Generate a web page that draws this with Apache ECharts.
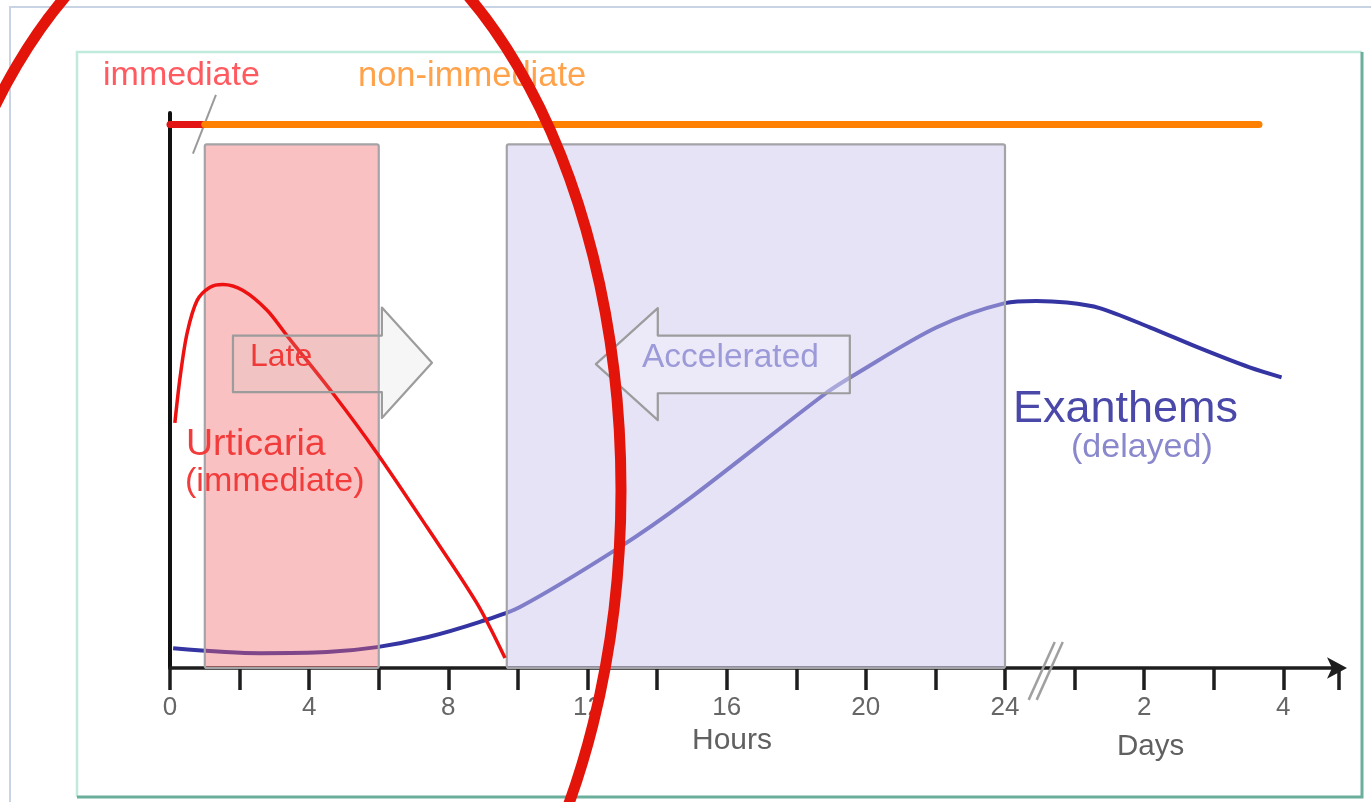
<!DOCTYPE html>
<html>
<head>
<meta charset="utf-8">
<script src="https://cdn.jsdelivr.net/npm/echarts@6/dist/echarts.min.js"></script>
<style>html,body{margin:0;padding:0;background:#fff;}#c{width:1371px;height:802px;}</style>
</head>
<body>
<div id="c"></div>
<script>
// ---- data (x in hours; beyond 24 the scale continues as days: 28 -> 2 days, 32 -> 4 days) ----
const tickValues = [0,2,4,6,8,10,12,14,16,18,20,22,24,26,28,30,32];
const tickLabels = ['0','','4','','8','','12','','16','','20','','24','','2','','4'];

const urticaria = [[0.14,44.6],[0.29,52.9],[0.49,60.9],[0.78,66.9],[1.15,69.3],[1.52,69.8],[2.10,68.7],[2.79,65.1],[3.36,60.5],[4.68,50.0],[5.95,39.1],[7.39,25.6],[8.82,11.8],[9.63,1.8]];
const exanthems = [[0.09,3.6],[2.59,2.7],[4.51,2.9],[5.95,3.8],[7.39,5.6],[8.91,8.4],[10.06,11.1],[12.93,22],[14.86,30.5],[18.85,50],[19.74,53.6],[22.04,62],[24.0,66.4],[24.9,66.8],[25.78,66.5],[26.72,65.5],[28.16,62.0],[29.6,58.2],[31.03,54.7],[31.95,52.9]];

const phaseStart = [1.0, 9.68];
const phaseEnd = [6.0, 24.0];
const phaseTop = [95.3, 95.3];

const immediateBar = [[0,98.9],[1.0,98.9]];
const nonImmediateBar = [[1.0,98.9],[31.3,98.9]];

// arrows: [tailX, headBaseX, tipX, bodyTop, bodyBottom, headTop, headBottom]
const arrowLate = [1.81, 6.09, 7.53, 60.5, 50.2, 65.6, 45.5];
const arrowAccel = [19.54, 14.02, 12.24, 60.5, 50.0, 65.5, 45.1];

// divider between immediate / non-immediate, and axis break marks: [x0,y0,x1,y1]
const dividerMark = [[1.32,104.3,0.66,93.6]];
const breakMarks = [[25.43,4.73,24.68,-5.8],[25.66,4.73,24.91,-5.8]];

const FONT = '"Liberation Sans", Arial, Helvetica, sans-serif';

const chart = echarts.init(document.getElementById('c'), null, {renderer:'canvas'});

function txt(x, y, s, size, color, z) {
  return {type:'text', x:x, y:y, z: z || 50,
    style:{text:s, font: size + 'px ' + FONT, fill:color, textAlign:'left', textVerticalAlign:'middle', verticalAlign:'middle'}};
}

const arrowSeries = (arr, fill) => ({
  type:'custom', z:5, clip:false,
  data:[arr],
  encode:{x:[0,1,2], y:[3,4]},
  renderItem: function(params, api){
    const v = i => api.value(i);
    const ym = (v(5)+v(6))/2;
    const pts = [[v(0),v(3)],[v(1),v(3)],[v(1),v(5)],[v(2),ym],[v(1),v(6)],[v(1),v(4)],[v(0),v(4)]].map(p => api.coord(p));
    return {type:'polygon', shape:{points:pts}, style:{fill:fill, stroke:'#9c9c9c', lineWidth:2.2, lineJoin:'round'}};
  }
});

const segSeries = (arr, color, width) => ({
  type:'custom', z:6, clip:false,
  data:arr,
  encode:{x:[0,2], y:[1,3]},
  renderItem: function(params, api){
    const a = api.coord([api.value(0), api.value(1)]);
    const b = api.coord([api.value(2), api.value(3)]);
    return {type:'line', shape:{x1:a[0],y1:a[1],x2:b[0],y2:b[1]}, style:{stroke:color, lineWidth:width}};
  }
});

const phaseFills = ['rgba(240,100,100,0.40)', 'rgba(205,200,240,0.50)'];

const option = {
  backgroundColor:'#ffffff',
  animation:false,
  grid:{left:170, right:32, top:113, bottom:134},
  xAxis:{
    type:'value', min:0, max:33.6, interval:2,
    axisLine:{show:true, lineStyle:{color:'#1e1e1e', width:3.5}, symbol:['none','arrow'], symbolSize:[16,20], symbolOffset:[0,8]},
    axisTick:{show:true, length:22, lineStyle:{color:'#1e1e1e', width:3.5}},
    axisLabel:{show:true, margin:27, fontSize:26, fontFamily:FONT, color:'#666666',
      formatter: function(v){ const i = tickValues.indexOf(v); return i >= 0 ? tickLabels[i] : ''; }},
    splitLine:{show:false}
  },
  yAxis:{
    type:'value', min:0, max:101,
    axisLine:{show:true, lineStyle:{color:'#111', width:4}},
    axisTick:{show:false}, axisLabel:{show:false}, splitLine:{show:false}
  },
  series:[
    {type:'line', name:'Exanthems', data:exanthems, z:2, smooth:0.3, symbol:'none',
      lineStyle:{color:'#3434a2', width:4}},
    {type:'custom', name:'phases', z:3,
      data: phaseStart.map((s,i) => [s, phaseEnd[i], phaseTop[i]]),
      encode:{x:[0,1], y:2},
      renderItem: function(params, api){
        const p0 = api.coord([api.value(0), api.value(2)]);
        const p1 = api.coord([api.value(1), 0]);
        return {type:'rect', shape:{x:p0[0], y:p0[1], width:p1[0]-p0[0], height:p1[1]-p0[1], r:2},
          style:{fill:phaseFills[params.dataIndex], stroke:'#a4a4a8', lineWidth:2.2}};
      }},
    {type:'line', name:'Urticaria', data:urticaria, z:4, smooth:0.3, symbol:'none',
      lineStyle:{color:'#ee1111', width:3.5}},
    arrowSeries(arrowLate, 'rgba(205,205,205,0.18)'),
    arrowSeries(arrowAccel, 'rgba(245,245,252,0.35)'),
    {type:'line', name:'immediate', data:immediateBar, z:6, symbol:'none', clip:false,
      lineStyle:{color:'#e21414', width:7, cap:'round'}},
    {type:'line', name:'non-immediate', data:nonImmediateBar, z:6, symbol:'none', clip:false,
      lineStyle:{color:'#ff8000', width:7, cap:'round'}},
    segSeries(dividerMark, '#9a9a9a', 2),
    segSeries(breakMarks, '#a0a0a0', 2.5)
  ],
  graphic:[
    {type:'rect', z:-10, silent:true, shape:{x:10, y:7, width:1420, height:900}, style:{fill:'none', stroke:'#c8d3e3', lineWidth:2}},
    {type:'polyline', z:-10, silent:true, shape:{points:[[77,797],[77,52],[1362,52]]}, style:{fill:'none', stroke:'#bfeadc', lineWidth:2.5}},
    {type:'polyline', z:-10, silent:true, shape:{points:[[1362,52],[1362,797],[77,797]]}, style:{fill:'none', stroke:'#6aae9c', lineWidth:3}},
    txt(103, 76, 'immediate', 34, '#ff5a5f'),
    txt(358, 76, 'non-immediate', 34.5, '#ffa24a'),
    txt(250, 357, 'Late', 32, '#f03a3a'),
    txt(642, 358, 'Accelerated', 33.5, '#9c9ad8'),
    txt(186, 445, 'Urticaria', 37.5, '#f23c3c'),
    txt(185, 482, '(immediate)', 34, '#f23c3c'),
    txt(1013, 410, 'Exanthems', 45, '#4a48a8'),
    txt(1071, 448, '(delayed)', 34, '#8a88cc'),
    txt(692, 741, 'Hours', 30, '#606060'),
    txt(1117, 747, 'Days', 29.5, '#606060'),
    {type:'ellipse', z:100, silent:true, shape:{cx:267, cy:490, rx:354, ry:600}, style:{fill:'none', stroke:'#e3140a', lineWidth:11}}
  ]
};
chart.setOption(option);
</script>
</body>
</html>
